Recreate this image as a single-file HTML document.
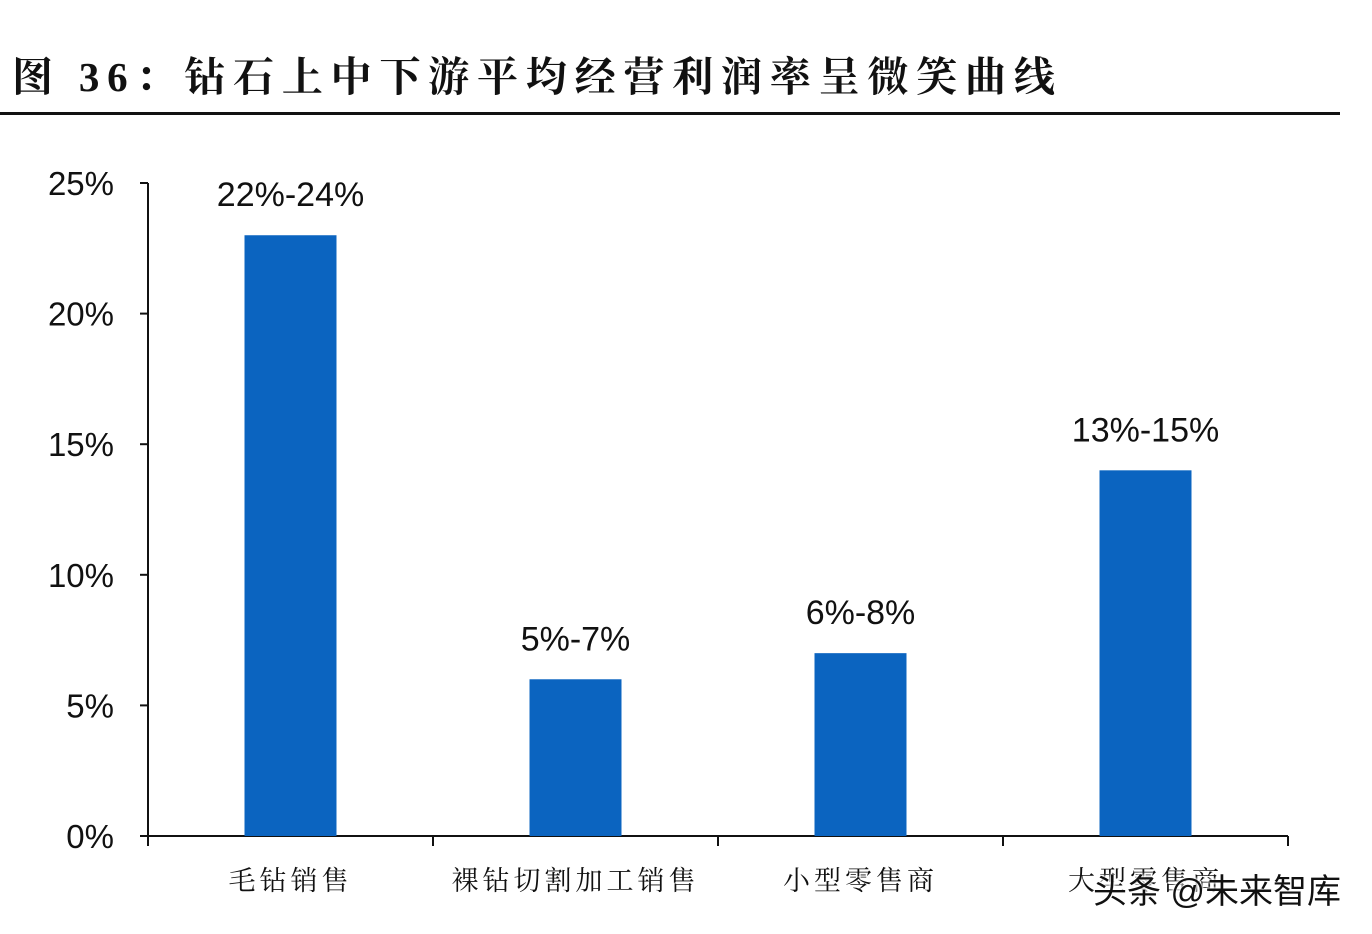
<!DOCTYPE html>
<html><head><meta charset="utf-8"><style>
body{margin:0;background:#fff;width:1372px;height:934px;overflow:hidden;position:relative;font-family:"Liberation Sans","Noto Sans CJK SC",sans-serif}
#title{position:absolute;left:12px;top:44px;font-family:"Liberation Serif","Noto Serif CJK SC",serif;font-weight:bold;font-size:41px;letter-spacing:7.8px;color:#111;white-space:nowrap}
#rule{position:absolute;left:0;top:112px;width:1340px;height:3px;background:#111}
#wm{position:absolute;left:1093px;top:864px;font-size:34px;color:#111;text-shadow:0 0 3px #fff,0 0 3px #fff,0 0 3px #fff;white-space:nowrap}
</style></head><body>
<div id="title">图 36：钻石上中下游平均经营利润率呈微笑曲线</div>
<div id="rule"></div>
<svg id="chart" width="1372" height="934" style="position:absolute;left:0;top:0"></svg>
<div id="wm">头条 @未来智库</div>
<script>
const categories=["毛钻销售","裸钻切割加工销售","小型零售商","大型零售商"];
const values=[23,6,7,14];
const valueLabels=["22%-24%","5%-7%","6%-8%","13%-15%"];
const yTicks=[0,5,10,15,20,25];
const NS="http://www.w3.org/2000/svg";
const svg=document.getElementById('chart');
const x0=148,x1=1288,yBase=836,yTop=183,yMax=25;
const bw=(x1-x0)/categories.length;
const y=v=>yBase-(v/yMax)*(yBase-yTop);
const xc=i=>x0+bw*(i+0.5);
function mk(t,a){const e=document.createElementNS(NS,t);for(const k in a)e.setAttribute(k,a[k]);svg.appendChild(e);return e;}
const ya=mk('line',{x1:x0,y1:yTop,x2:x0,y2:yBase,stroke:'#111','stroke-width':2});


const xa=mk('line',{x1:x0,y1:yBase,x2:x1,y2:yBase,stroke:'#111','stroke-width':2});


yTicks.forEach(t=>{
  mk('line',{x1:x0-8,y1:y(t),x2:x0,y2:y(t),stroke:'#111','stroke-width':2});
  const tx=mk('text',{x:114,y:y(t)+12,'text-anchor':'end','font-size':33,fill:'#111'});
  tx.textContent=t+'%';
  
  
});
for(let i=0;i<=categories.length;i++){
  mk('line',{x1:x0+bw*i,y1:yBase,x2:x0+bw*i,y2:yBase+10,stroke:'#111','stroke-width':2});
}
categories.forEach((c,i)=>{
  const b=mk('rect',{x:xc(i)-46,y:y(values[i]),width:92,height:yBase-y(values[i]),fill:'#0b64c0'});
  
  
  const l=mk('text',{x:xc(i),y:y(values[i])-29,'text-anchor':'middle','font-size':34,fill:'#111'});
  l.textContent=valueLabels[i];
  
  
  const cl=mk('text',{x:xc(i),y:890,'text-anchor':'middle','font-size':27,fill:'#111','font-family':'"Liberation Serif","Noto Serif CJK SC",serif','letter-spacing':4});
  cl.textContent=c;
  
  
});
</script>
</body></html>
